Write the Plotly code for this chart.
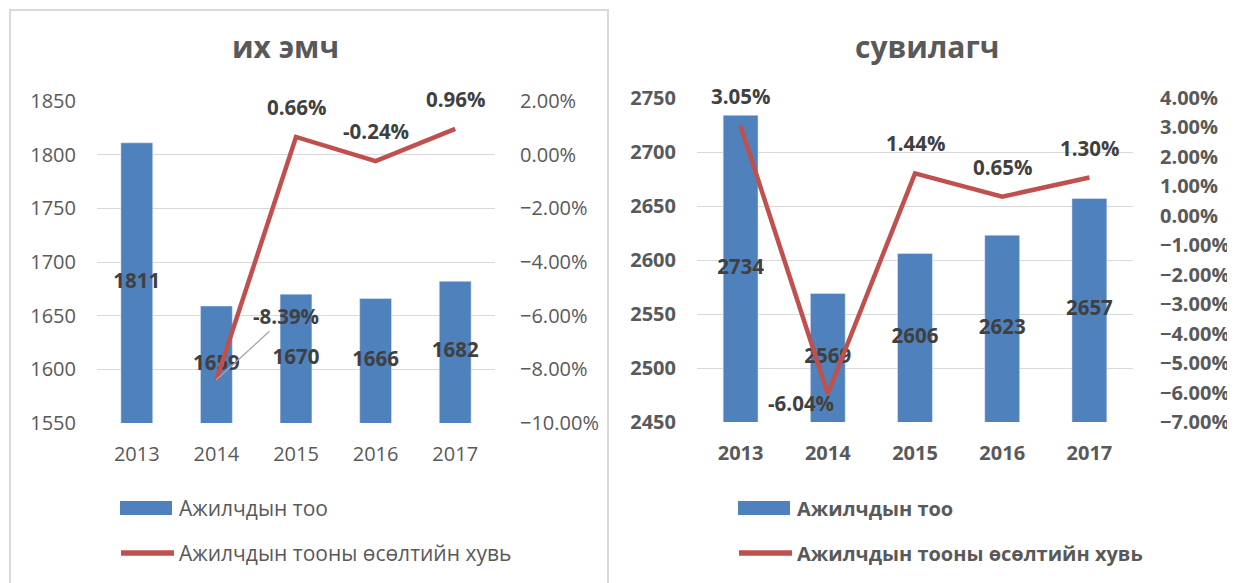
import plotly.graph_objects as go

# target picture size; the page body adds an 8px margin, so the figure is
# drawn 8px smaller and positions are given in picture pixels
W, H = 1235, 583
OFF = 8
FW, FH = W - OFF, H - OFF

years = ["2013", "2014", "2015", "2016", "2017"]

# их эмч
doctors = [1811, 1659, 1670, 1666, 1682]
doctors_growth = [None, -0.0839, 0.0066, -0.0024, 0.0096]

# сувилагч
nurses = [2734, 2569, 2606, 2623, 2657]
nurses_growth = [0.0305, -0.0604, 0.0144, 0.0065, 0.0130]

bar_name = "Ажилчдын тоо"
line_name = "Ажилчдын тооны өсөлтийн хувь"

BLUE = "#4F81BD"
RED = "#C0504D"
GRID = "#D9D9D9"
TXT = "#595959"
LBL = "#404040"
FONT = "Open Sans"


def px(x):
    return (x - OFF) / FW


def py(y):
    return 1 - (y - OFF) / FH


fig = go.Figure()

panels = [
    dict(title="их эмч", bars=doctors, growth=doctors_growth, xa="x", ya="y", ya2="y2",
         yrange=[1550, 1850], y2range=[-0.10, 0.02], bold=False, title_x=285, legend_x=120),
    dict(title="сувилагч", bars=nurses, growth=nurses_growth, xa="x2", ya="y3", ya2="y4",
         yrange=[2450, 2750], y2range=[-0.07, 0.04], bold=True, title_x=927, legend_x=738),
]

# special placement of some line labels (pixel offsets)
label_moves = {
    (0, 1): dict(ax=70, ay=-64, arrow=True),
    (1, 1): dict(xshift=-27, yshift=-9),
}

for i, p in enumerate(panels):
    weight = "bold" if p["bold"] else "normal"
    ymin = p["yrange"][0]
    fig.add_trace(go.Bar(
        x=years, y=p["bars"], name=bar_name, marker_color=BLUE, width=0.4,
        xaxis=p["xa"], yaxis=p["ya"], showlegend=False,
    ))
    # bar value labels, centred in visible part of bar
    fig.add_trace(go.Scatter(
        x=years, y=[(ymin + v) / 2 for v in p["bars"]], mode="text",
        text=[str(v) for v in p["bars"]],
        textfont=dict(family=FONT, size=20.5, color=LBL, weight="bold"),
        xaxis=p["xa"], yaxis=p["ya"], showlegend=False, hoverinfo="skip",
    ))
    fig.add_trace(go.Scatter(
        x=years, y=p["growth"], name=line_name, mode="lines",
        line=dict(color=RED, width=4.5), xaxis=p["xa"], yaxis=p["ya2"], showlegend=False,
    ))
    for j, g in enumerate(p["growth"]):
        if g is None:
            continue
        mv = label_moves.get((i, j), {})
        # category index as x, so the year string is not read as a number
        ann = dict(x=j, y=g, xref=p["xa"], yref=p["ya2"], text=f"{g * 100:.2f}%",
                   font=dict(family=FONT, size=20.5, color=LBL, weight="bold"), showarrow=False,
                   yshift=30)
        if mv.get("arrow"):
            ann.update(showarrow=True, ax=mv["ax"], ay=mv["ay"], arrowhead=0,
                       arrowcolor="#A6A6A6", arrowwidth=1.3, yshift=0, standoff=0)
        elif mv:
            ann.update(xshift=mv["xshift"], yshift=mv["yshift"])
        fig.add_annotation(**ann)

    # title
    fig.add_annotation(x=px(p["title_x"]), y=py(47), xref="paper", yref="paper",
                       xanchor="center", yanchor="middle",
                       text=f"<b>{p['title']}</b>", showarrow=False,
                       font=dict(family=FONT, size=30, color=TXT))

    # legend, drawn by hand to get Excel-sized keys
    lx = p["legend_x"]
    fig.add_shape(type="rect", xref="paper", yref="paper", x0=px(lx), x1=px(lx + 52),
                  y0=py(515), y1=py(501), fillcolor=BLUE, line_width=0)
    fig.add_shape(type="line", xref="paper", yref="paper", x0=px(lx + 1), x1=px(lx + 54),
                  y0=py(553), y1=py(553), line=dict(color=RED, width=5.5))
    for ty, name in [(508, bar_name), (553, line_name)]:
        fig.add_annotation(x=px(lx + 57), y=py(ty), xref="paper", yref="paper",
                           xanchor="left", yanchor="middle", text=name, showarrow=False,
                           font=dict(family=FONT, size=21 if not p["bold"] else 20,
                                     color=TXT, weight=weight))

tick_font_l = dict(family=FONT, size=20, color=TXT)
tick_font_r = dict(family=FONT, size=20, color=TXT, weight="bold")

fig.update_layout(
    width=FW, height=FH,
    margin=dict(l=0, r=0, t=0, b=0),
    paper_bgcolor="white", plot_bgcolor="white",
    showlegend=False,
    xaxis=dict(domain=[px(97), px(495)], anchor="y", type="category", range=[-0.5, 4.5],
               tickfont=tick_font_l, showgrid=False, ticklabelstandoff=17, automargin=False),
    yaxis=dict(domain=[py(423), py(101)], anchor="x", range=panels[0]["yrange"],
               dtick=50, tickfont=tick_font_l, gridcolor=GRID, gridwidth=1.3,
               ticklabelstandoff=20, zeroline=False, automargin=False),
    yaxis2=dict(overlaying="y", side="right", anchor="x", range=panels[0]["y2range"],
                dtick=0.02, tickformat=".2%", tickfont=tick_font_l, showgrid=False,
                zeroline=False, ticklabelstandoff=24, automargin=False),
    xaxis2=dict(domain=[px(697), px(1133)], anchor="y3", type="category", range=[-0.5, 4.5],
                tickfont=tick_font_r, showgrid=False, ticklabelstandoff=17, automargin=False),
    yaxis3=dict(domain=[py(422), py(98)], anchor="x2", range=panels[1]["yrange"],
                dtick=50, tickfont=tick_font_r, gridcolor=GRID, gridwidth=1.3,
                ticklabelstandoff=20, zeroline=False, automargin=False),
    yaxis4=dict(overlaying="y3", side="right", anchor="x2", range=panels[1]["y2range"],
                dtick=0.01, tickformat=".2%", tickfont=tick_font_r, showgrid=False,
                zeroline=False, ticklabelstandoff=26, automargin=False),
)

# chart area border of the left chart
fig.add_shape(type="rect", xref="paper", yref="paper", x0=px(10), x1=px(608),
              y0=py(600), y1=py(10), line=dict(color=GRID, width=2))

fig.write_html("out.html")
